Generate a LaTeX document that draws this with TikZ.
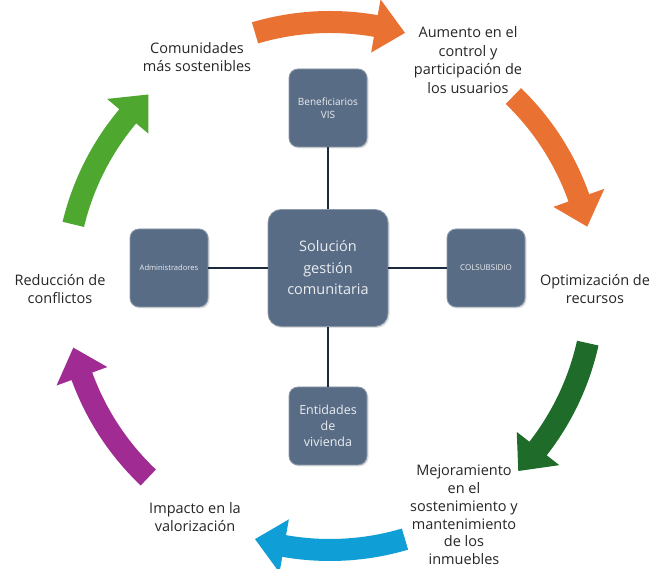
\documentclass[tikz,border=0pt]{standalone}
\usepackage{fontspec}
\setmainfont{Open Sans}
\usepackage{tikz}
\usetikzlibrary{shadows}
\definecolor{slate}{RGB}{89,108,134}
\definecolor{navy}{RGB}{28,42,62}
\definecolor{arrorange}{RGB}{233,113,50}
\definecolor{arrdkgreen}{RGB}{30,107,42}
\definecolor{arrblue}{RGB}{15,158,213}
\definecolor{arrpurple}{RGB}{160,43,147}
\definecolor{arrgreen}{RGB}{78,167,46}

% curved block arrow on the ring, clockwise from #2 to #3
\newcommand{\ringarrow}[3]{%
  \fill[#1] (#2:275pt) arc[start angle=#2, end angle=#3+6.5, radius=275pt]
    -- (#3+6.5:291pt) -- (#3:264pt) -- (#3+6.5:237pt) -- (#3+6.5:253pt)
    arc[start angle=#3+6.5, end angle=#2, radius=253pt] -- cycle;}

\begin{document}
\begin{tikzpicture}[x=1pt, y=1pt,
    box/.style={rectangle, rounded corners=9pt, fill=slate, draw=slate!70!white,
      line width=0.8pt, text=white!88!slate, align=center,
      drop shadow={shadow xshift=1.5pt, shadow yshift=-1.5pt, opacity=.25}},
    link/.style={navy, line width=1.4pt},
    lbl/.style={align=center, text=black!85, font=\fontsize{14.5}{18.5}\selectfont}
  ]
  \useasboundingbox[fill=white] (0,0) rectangle (653,569);

  % hub and spokes
  \node[box, minimum width=120pt, minimum height=117pt, rounded corners=13pt,
    font=\fontsize{14.5}{21.5}\selectfont] (hub) at (328,301) {Solución\\gestión\\comunitaria};
  \node[box, minimum size=78pt, font=\fontsize{10}{13}\selectfont] (ben) at (328,461) {Beneficiarios\\VIS};
  \node[box, minimum size=78pt, font=\fontsize{7.6}{9}\selectfont] (adm) at (169,301) {Administradores};
  \node[box, minimum size=78pt, font=\fontsize{8}{9}\selectfont] (col) at (486,301) {COLSUBSIDIO};
  \node[box, minimum size=78pt, font=\fontsize{12.5}{16}\selectfont] (ent) at (328,143) {Entidades\\de\\vivienda};
  \draw[link] (hub) -- (ben);
  \draw[link] (hub) -- (adm);
  \draw[link] (hub) -- (col);
  \draw[link] (hub) -- (ent);

  % cycle of benefits
  \begin{scope}[shift={(330,283)}]
    \ringarrow{arrorange}{106.5}{73.5}
    \ringarrow{arrorange}{46}{13}
    \ringarrow{arrdkgreen}{-12.5}{-44.5}
    \ringarrow{arrblue}{-73.5}{-106.5}
    \ringarrow{arrpurple}{226.5}{193.5}
    \ringarrow{arrgreen}{166.5}{133.5}
  \end{scope}

  \node[lbl] (l1) at (197,512) {Comunidades\\más sostenibles};
  \node[lbl] (l2) at (468,509) {Aumento en el\\control y\\participación de\\los usuarios};
  \node[lbl] (l3) at (595,280) {Optimización de\\recursos};
  \node[lbl, font=\fontsize{14.5}{17.8}\selectfont] (l4) at (464,54) {Mejoramiento\\en el\\sostenimiento y\\mantenimiento\\de los\\inmuebles};
  \node[lbl] (l5) at (195,52) {Impacto en la\\valorización};
  \node[lbl] (l6) at (60,280) {Reducción de\\conflictos};
\end{tikzpicture}
\end{document}
